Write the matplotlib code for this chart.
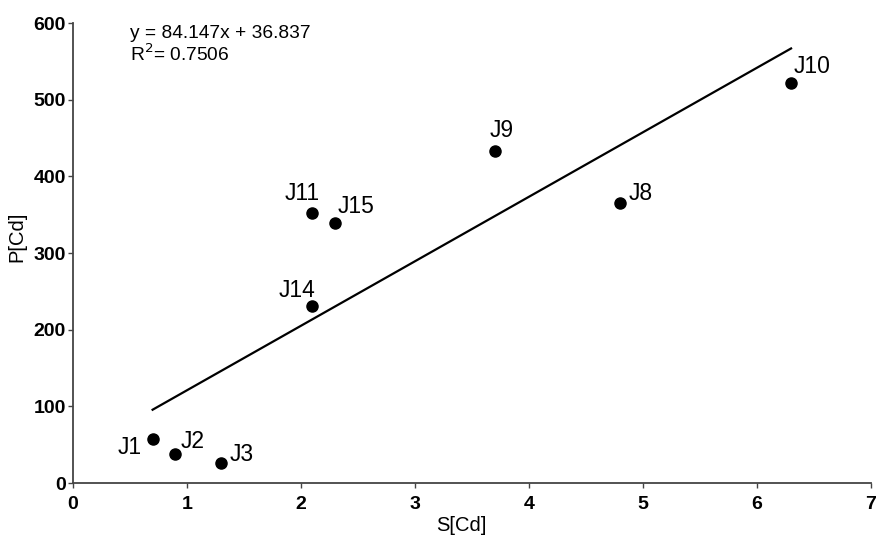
# scatter of P[Cd] vs S[Cd] with linear trend line
import numpy as np
import matplotlib
matplotlib.use("Agg")
import matplotlib.pyplot as plt

plt.rcParams["font.family"] = ["Liberation Sans", "DejaVu Sans"]

# data
labels = ["J1", "J2", "J3", "J14", "J11", "J15", "J9", "J8", "J10"]
s_cd = [0.7, 0.9, 1.3, 2.1, 2.1, 2.3, 3.7, 4.8, 6.3]
p_cd = [57, 38, 26, 231, 352, 339, 433, 365, 522]

slope = 84.147
intercept = 36.837
r2 = 0.7506

# label offsets (points) and alignment
offsets = {
    "J1": (-8, -6, "right"),
    "J2": (4, 9, "left"),
    "J3": (6, 6, "left"),
    "J14": (-11, 11, "center"),
    "J11": (-7, 14, "center"),
    "J15": (2, 12, "left"),
    "J9": (5, 15, "center"),
    "J8": (6, 7, "left"),
    "J10": (2, 11.5, "left"),
}

fig = plt.figure(figsize=(8.77, 5.38), dpi=100)
ax = fig.add_axes([0.083, 0.102, 0.910, 0.855])

ax.scatter(s_cd, p_cd, s=64, color="black", zorder=3)

xfit = np.array([min(s_cd), max(s_cd)])
ax.plot(xfit, slope * xfit + intercept, color="black", lw=1.6)

for lab, x, y in zip(labels, s_cd, p_cd):
    dx, dy, ha = offsets[lab]
    ax.annotate(lab, (x, y), xytext=(dx, dy), textcoords="offset points",
                ha=ha, va="center", fontsize=16.5)

ax.text(0.5, 598, f"y = {slope}x + {intercept}\nR$^2$= {r2}",
        ha="left", va="top", fontsize=13.8, linespacing=1.1)

ax.set_xlim(0, 7)
ax.set_ylim(0, 600)
ax.set_xticks(range(0, 8))
ax.set_yticks(range(0, 700, 100))
ax.set_xlabel("S[Cd]", fontsize=14.5)
ax.set_ylabel("P[Cd]", fontsize=14.5)
ax.xaxis.set_label_coords(0.487, -0.072)
ax.yaxis.set_label_coords(-0.058, 0.535)

for side in ["top", "right"]:
    ax.spines[side].set_visible(False)
for side in ["left", "bottom"]:
    ax.spines[side].set_linewidth(1.3)
    ax.spines[side].set_color("#444444")
ax.tick_params(direction="out", length=3.6, width=1.0, color="#444444",
               labelsize=14)
ax.tick_params(axis="x", pad=5.5)
ax.tick_params(axis="y", pad=1.5)
for t in ax.get_xticklabels() + ax.get_yticklabels():
    t.set_fontweight("bold")

plt.savefig("out.png", dpi=100)
